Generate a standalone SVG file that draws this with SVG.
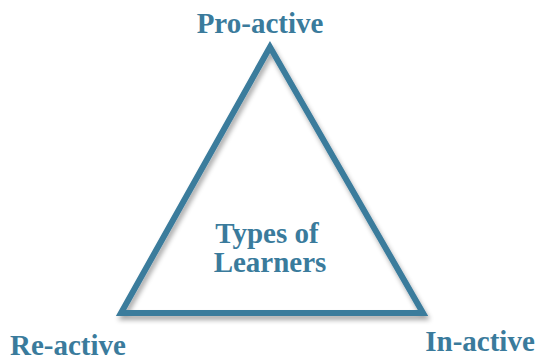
<svg xmlns="http://www.w3.org/2000/svg" width="536" height="360" viewBox="0 0 536 360">
<style>
.t{font-family:"Liberation Serif","Times New Roman",serif;font-weight:bold;fill:#3a7b9c;font-size:29px;text-anchor:middle}
</style>
<defs>
<filter id="sh" x="-10%" y="-10%" width="120%" height="130%">
<feGaussianBlur in="SourceAlpha" stdDeviation="2.5"/>
<feOffset dx="2" dy="4" result="b"/>
<feComponentTransfer><feFuncA type="linear" slope="0.35"/></feComponentTransfer>
<feMerge><feMergeNode/><feMergeNode in="SourceGraphic"/></feMerge>
</filter>
</defs>
<g id="triangle">
<polygon points="270,47 121,313 423,313" fill="none" stroke="#3a7b9c" stroke-width="6" stroke-linejoin="miter" filter="url(#sh)"/>
</g>
<g id="connectors"></g>
<g id="center"><text class="t" x="267" y="243">Types of</text><text class="t" x="270" y="272">Learners</text></g>
<g id="pro"><text class="t" x="260" y="33">Pro-active</text></g>
<g id="re"><text class="t" x="68" y="355">Re-active</text></g>
<g id="in"><text class="t" x="480" y="351">In-active</text></g>
</svg>
